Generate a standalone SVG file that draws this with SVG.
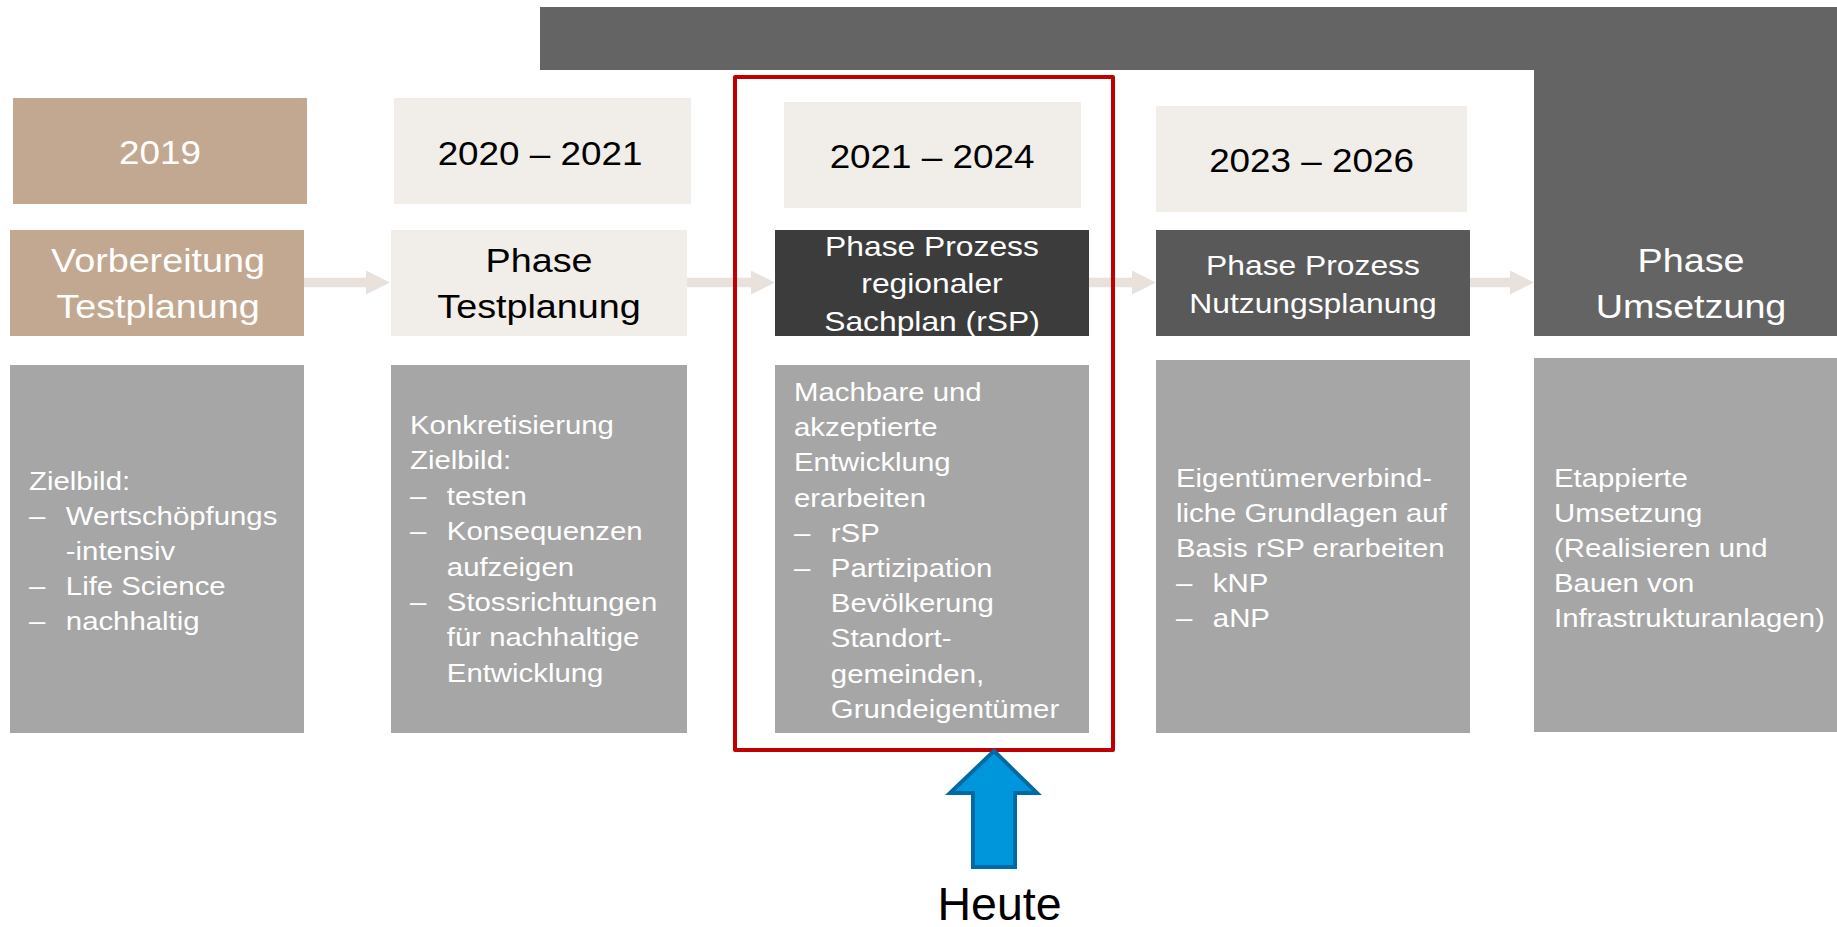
<svg xmlns="http://www.w3.org/2000/svg" width="1837" height="927" viewBox="0 0 1837 927">
<style>
text{font-family:"Liberation Sans",Arial,sans-serif}
.big{font-size:33px}
.lab{font-size:33.8px}
.mid{font-size:28.5px}
.body{font-size:26.3px;fill:#fff}
.w{fill:#fff}
.k{fill:#000}
.tan{fill:#c2a890}
.beige{fill:#f1eeea}
.grey{fill:#a6a6a6}
.dark{fill:#646464}
.conn{stroke:#e9e2dc;stroke-width:9.5;fill:none;marker-end:url(#ah)}
</style>
<defs>
<marker id="ah" markerUnits="userSpaceOnUse" markerWidth="24" markerHeight="24" viewBox="0 0 23 23" refX="1" refY="11.5" orient="auto">
<path d="M0,0 L23,11.5 L0,23 Z" fill="#e9e2dc"/>
</marker>
<clipPath id="clipRsp"><rect x="775" y="230" width="314" height="106"/></clipPath>
</defs>
<rect width="1837" height="927" fill="#fff"/>

<g id="topbar">
<rect class="dark" x="540" y="7" width="1297" height="63"/>
</g>

<g id="connectors">
<line class="conn" x1="304" y1="282.5" x2="367" y2="282.5"/>
<line class="conn" x1="687" y1="282.5" x2="752" y2="282.5"/>
<line class="conn" x1="1089" y1="282.5" x2="1133" y2="282.5"/>
<line class="conn" x1="1470" y1="282.5" x2="1511" y2="282.5"/>
</g>

<g id="year2019">
<rect class="tan" x="13" y="98" width="294" height="106"/>
<text class="big w" text-anchor="middle" transform="translate(160 0) scale(1.116 1)" x="0" y="164">2019</text>
</g>
<g id="year2020">
<rect class="beige" x="394" y="98" width="297" height="106"/>
<text class="big k" text-anchor="middle" transform="translate(540 0) scale(1.116 1)" x="0" y="165">2020 – 2021</text>
</g>
<g id="year2021">
<rect class="beige" x="784" y="102" width="297" height="106"/>
<text class="big k" text-anchor="middle" transform="translate(932 0) scale(1.116 1)" x="0" y="168">2021 – 2024</text>
</g>
<g id="year2023">
<rect class="beige" x="1156" y="106" width="311" height="106"/>
<text class="big k" text-anchor="middle" transform="translate(1311.5 0) scale(1.116 1)" x="0" y="172">2023 – 2026</text>
</g>

<g id="phase-vorbereitung">
<rect class="tan" x="10" y="230" width="294" height="106"/>
<text class="lab w" text-anchor="middle" transform="translate(158 0) scale(1.116 1)"><tspan x="0" y="272">Vorbereitung</tspan><tspan x="0" y="318">Testplanung</tspan></text>
</g>
<g id="phase-testplanung">
<rect class="beige" x="391" y="230" width="296" height="106"/>
<text class="lab k" text-anchor="middle" transform="translate(539 0) scale(1.116 1)"><tspan x="0" y="272">Phase</tspan><tspan x="0" y="318">Testplanung</tspan></text>
</g>
<g id="phase-rsp">
<rect x="775" y="230" width="314" height="106" fill="#3c3c3c"/>
<g clip-path="url(#clipRsp)">
<text class="mid w" text-anchor="middle" transform="translate(932 0) scale(1.116 1)"><tspan x="0" y="256">Phase Prozess</tspan><tspan x="0" y="293">regionaler</tspan><tspan x="0" y="331">Sachplan (rSP)</tspan></text>
</g>
</g>
<g id="phase-nutzungsplanung">
<rect x="1156" y="230" width="314" height="106" fill="#595959"/>
<text class="mid w" text-anchor="middle" transform="translate(1313 0) scale(1.116 1)"><tspan x="0" y="275">Phase Prozess</tspan><tspan x="0" y="313">Nutzungsplanung</tspan></text>
</g>
<g id="phase-umsetzung">
<rect class="dark" x="1534" y="8" width="303" height="328"/>
<text class="lab w" text-anchor="middle" transform="translate(1691 0) scale(1.116 1)"><tspan x="0" y="272">Phase</tspan><tspan x="0" y="318">Umsetzung</tspan></text>
</g>

<g id="desc-vorbereitung">
<rect class="grey" x="10" y="365" width="294" height="368"/>
<text class="body" transform="translate(29 0) scale(1.116 1)">
<tspan x="0" y="490">Zielbild:</tspan>
<tspan x="0" y="525">–</tspan><tspan x="33" y="525">Wertschöpfungs</tspan>
<tspan x="33" y="560">-intensiv</tspan>
<tspan x="0" y="595">–</tspan><tspan x="33" y="595">Life Science</tspan>
<tspan x="0" y="630">–</tspan><tspan x="33" y="630">nachhaltig</tspan>
</text>
</g>
<g id="desc-testplanung">
<rect class="grey" x="391" y="365" width="296" height="368"/>
<text class="body" transform="translate(410 0) scale(1.116 1)">
<tspan x="0" y="434">Konkretisierung</tspan>
<tspan x="0" y="469.4">Zielbild:</tspan>
<tspan x="0" y="504.8">–</tspan><tspan x="33" y="504.8">testen</tspan>
<tspan x="0" y="540.2">–</tspan><tspan x="33" y="540.2">Konsequenzen</tspan>
<tspan x="33" y="575.6">aufzeigen</tspan>
<tspan x="0" y="611">–</tspan><tspan x="33" y="611">Stossrichtungen</tspan>
<tspan x="33" y="646.4">für nachhaltige</tspan>
<tspan x="33" y="681.8">Entwicklung</tspan>
</text>
</g>
<g id="desc-rsp">
<rect class="grey" x="775" y="365" width="314" height="368"/>
<text class="body" transform="translate(794 0) scale(1.116 1)">
<tspan x="0" y="401">Machbare und</tspan>
<tspan x="0" y="436.2">akzeptierte</tspan>
<tspan x="0" y="471.4">Entwicklung</tspan>
<tspan x="0" y="506.6">erarbeiten</tspan>
<tspan x="0" y="541.8">–</tspan><tspan x="33" y="541.8">rSP</tspan>
<tspan x="0" y="577">–</tspan><tspan x="33" y="577">Partizipation</tspan>
<tspan x="33" y="612.2">Bevölkerung</tspan>
<tspan x="33" y="647.4">Standort-</tspan>
<tspan x="33" y="682.6">gemeinden,</tspan>
<tspan x="33" y="717.8">Grundeigentümer</tspan>
</text>
</g>
<g id="desc-nutzungsplanung">
<rect class="grey" x="1156" y="360" width="314" height="373"/>
<text class="body" transform="translate(1176 0) scale(1.116 1)">
<tspan x="0" y="487">Eigentümerverbind-</tspan>
<tspan x="0" y="522">liche Grundlagen auf</tspan>
<tspan x="0" y="557">Basis rSP erarbeiten</tspan>
<tspan x="0" y="592">–</tspan><tspan x="33" y="592">kNP</tspan>
<tspan x="0" y="627">–</tspan><tspan x="33" y="627">aNP</tspan>
</text>
</g>
<g id="desc-umsetzung">
<rect class="grey" x="1534" y="358" width="303" height="374"/>
<text class="body" transform="translate(1554 0) scale(1.116 1)">
<tspan x="0" y="487">Etappierte</tspan>
<tspan x="0" y="522">Umsetzung</tspan>
<tspan x="0" y="557">(Realisieren und</tspan>
<tspan x="0" y="592">Bauen von</tspan>
<tspan x="0" y="627">Infrastrukturanlagen)</tspan>
</text>
</g>

<g id="highlight">
<rect x="735" y="77" width="378" height="673" fill="none" stroke="#c00000" stroke-width="4" stroke-linejoin="round"/>
</g>

<g id="heute">
<polygon points="994,751 1037,793 1015,793 1015,867 973,867 973,793 950,793" fill="#0096db" stroke="#006aa5" stroke-width="4" stroke-linejoin="miter"/>
<text class="k" style="font-size:46.5px" text-anchor="middle" x="999.5" y="920">Heute</text>
</g>
</svg>
